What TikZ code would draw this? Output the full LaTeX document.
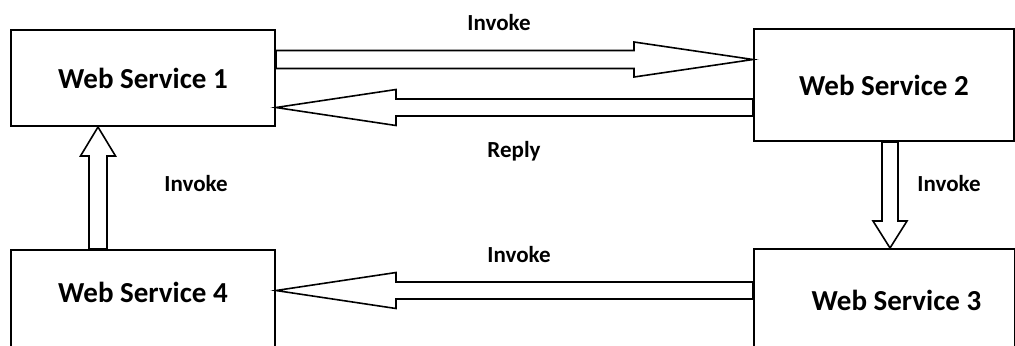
\documentclass[tikz,border=0pt]{standalone}
\usepackage{fontspec}
\setmainfont{Carlito}
\usetikzlibrary{calc}
\tikzset{
  box/.style={draw, line width=1pt, rectangle, inner sep=0pt, font=\fontsize{14.5}{17}\selectfont\bfseries},
  lbl/.style={inner sep=0pt, anchor=base, font=\fontsize{11.5}{14}\selectfont\bfseries},
  arr/.style={draw, line width=0.8pt, fill=white, line join=miter}
}
\newcommand\blockarr[5]{%
  \path ($(#2)!#5!(#1)$) coordinate (H);
  \draw[arr] ($(#1)!#3!90:(#2)$) -- ($(H)!#3!90:(#2)$) -- ($(H)!#4!90:(#2)$) -- (#2)
    -- ($(H)!#4!-90:(#2)$) -- ($(H)!#3!-90:(#2)$) -- ($(#1)!#3!-90:(#2)$) -- cycle;}
\begin{document}
\begin{tikzpicture}[x=0.5pt, y=-0.5pt]
\useasboundingbox (0,0) rectangle (1015,345);
\fill[white] (0,0) rectangle (1015,345);
\node[box, minimum width=132pt, minimum height=48pt] (b1) at (143,78) {Web Service 1};
\node[box, minimum width=130pt, minimum height=56pt] (b2) at (884,85) {Web Service 2};
\node[box, minimum width=130.5pt, minimum height=51pt] (b3) at (884.5,300) {\hspace*{12pt}Web Service 3};
\node[box, minimum width=132pt, minimum height=50pt, text depth=8pt] (b4) at (143,300) {Web Service 4};
% connectors
\coordinate (a12s) at (b1.east |- 0,59.5);
\coordinate (a12e) at (b2.west |- 0,59.5);
\blockarr{a12s}{a12e}{4.5pt}{8.75pt}{59.5pt}
\coordinate (a21s) at (b2.west |- 0,107.5);
\coordinate (a21e) at (b1.east |- 0,107.5);
\blockarr{a21s}{a21e}{4.25pt}{9pt}{60pt}
\coordinate (a41s) at (b4.north -| 98,0);
\coordinate (a41e) at (b1.south -| 98,0);
\blockarr{a41s}{a41e}{4.5pt}{8.75pt}{14.5pt}
\coordinate (a23s) at (b2.south -| 890,0);
\coordinate (a23e) at (b3.north -| 890,0);
\blockarr{a23s}{a23e}{4pt}{8.5pt}{13.5pt}
\coordinate (a34s) at (b3.west |- 0,290.5);
\coordinate (a34e) at (b4.east |- 0,290.5);
\blockarr{a34s}{a34e}{4.25pt}{9pt}{60pt}
% labels
\node[lbl] (l1) at (499,30.5) {Invoke};
\node[lbl] (l2) at (514,157.5) {Reply};
\node[lbl] (l3) at (196,191.5) {Invoke};
\node[lbl] (l4) at (949,191.5) {Invoke};
\node[lbl] (l5) at (519,262) {Invoke};
\end{tikzpicture}
\end{document}
